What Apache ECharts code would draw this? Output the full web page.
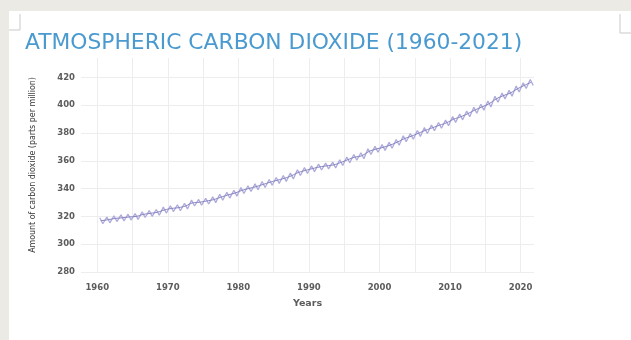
<!DOCTYPE html>
<html lang="en">
<head>
<meta charset="utf-8">
<title>Atmospheric Carbon Dioxide</title>
<script src="https://cdn.jsdelivr.net/npm/echarts@6/dist/echarts.min.js"></script>
</head>
<body style="margin:0; background:#ebeae5; width:631px; height:340px; overflow:hidden; position:relative">
<div id="container" style="position:absolute; left:9px; top:11px; width:622px; height:329px; background:#ffffff"></div>
<script>
// Mauna Loa CO2 (ppm)
var years = [];
for (var y = 1960; y <= 2021; y++) years.push(y);

// yearly seasonal high (around May)
var peakValues = [
  319.0, 319.6, 320.5, 321.1, 321.6, 322.0, 323.4, 324.2, 325.0, 326.7,
  327.7, 328.4, 329.5, 331.8, 332.2, 333.1, 334.1, 335.9, 337.4, 338.8,
  340.7, 342.1, 343.4, 345.1, 346.6, 348.0, 349.4, 351.3, 353.6, 355.1,
  356.4, 357.7, 358.4, 359.1, 360.8, 362.8, 364.6, 365.8, 368.7, 370.4,
  371.7, 373.3, 375.4, 378.0, 379.7, 381.8, 383.9, 385.8, 387.6, 389.4,
  391.9, 393.7, 395.9, 398.6, 400.7, 403.0, 406.5, 408.8, 410.7, 413.8,
  416.2, 418.5
];
// yearly seasonal low (around October)
var lowValues = [
  314.7, 315.4, 316.3, 316.8, 317.4, 317.8, 319.2, 320.0, 320.8, 322.4,
  323.5, 324.1, 325.3, 327.5, 328.0, 328.9, 329.9, 331.6, 333.2, 334.6,
  336.5, 337.9, 339.2, 340.8, 342.4, 343.8, 345.2, 347.0, 349.4, 350.9,
  352.2, 353.4, 354.2, 354.9, 356.6, 358.6, 360.4, 361.5, 364.5, 366.2,
  367.5, 369.1, 371.2, 373.7, 375.5, 377.6, 379.7, 381.6, 383.4, 385.2,
  387.7, 389.5, 391.7, 394.3, 396.5, 398.8, 402.2, 404.6, 406.5, 409.5,
  412.0, 414.3
];
// yearly mean (trend line)
var meanValues = [
  316.9, 317.6, 318.5, 319.0, 319.6, 320.0, 321.4, 322.2, 323.0, 324.6,
  325.7, 326.3, 327.5, 329.7, 330.2, 331.1, 332.1, 333.8, 335.4, 336.8,
  338.7, 340.1, 341.4, 343.0, 344.6, 346.0, 347.4, 349.2, 351.6, 353.1,
  354.4, 355.6, 356.4, 357.1, 358.8, 360.8, 362.6, 363.7, 366.7, 368.4,
  369.7, 371.3, 373.4, 375.9, 377.7, 379.8, 381.9, 383.8, 385.6, 387.4,
  389.9, 391.7, 393.9, 396.5, 398.7, 401.0, 404.4, 406.8, 408.7, 411.7,
  414.2, 416.5
];

var seasonal = [];
var trend = [];
years.forEach(function (yr, i) {
  seasonal.push([yr + 0.37, peakValues[i]]);
  seasonal.push([yr + 0.79, lowValues[i]]);
  trend.push([yr + 0.5, meanValues[i]]);
});

var myChart = echarts.init(document.getElementById('container'));

var labelFont = { fontFamily: 'DejaVu Sans', fontSize: 8.5, fontWeight: 'bold', color: '#5c5c5c' };

var option = {
  animation: false,
  title: {
    text: 'ATMOSPHERIC CARBON DIOXIDE (1960-2021)',
    left: 16,
    top: 21,
    padding: 0,
    textStyle: { fontFamily: 'DejaVu Sans', fontSize: 21.8, fontWeight: 'normal', color: '#4a9ad0' }
  },
  grid: { left: 72, right: 97, top: 47, bottom: 68 },
  xAxis: {
    type: 'value',
    min: 1957.7,
    max: 2021.9,
    splitNumber: 13,
    name: 'Years',
    nameLocation: 'middle',
    nameGap: 27,
    nameTextStyle: { fontFamily: 'DejaVu Sans', fontSize: 9.5, fontWeight: 'bold', color: '#5c5c5c' },
    axisLine: { show: false },
    axisTick: { show: false },
    axisLabel: Object.assign({
      margin: 11,
      formatter: function (v) { return v % 10 === 0 ? String(v) : ''; }
    }, labelFont),
    splitLine: { show: true, showMinLine: false, showMaxLine: false, lineStyle: { color: '#ededed', width: 1 } }
  },
  yAxis: {
    type: 'value',
    min: 280,
    max: 434,
    interval: 20,
    name: 'Amount of carbon dioxide (parts per million)',
    nameLocation: 'middle',
    nameGap: 44,
    nameTextStyle: { fontFamily: 'DejaVu Sans Condensed', fontSize: 8.8, color: '#333333' },
    axisLine: { show: false },
    axisTick: { show: false },
    axisLabel: Object.assign({
      margin: 6,
      formatter: function (v) { return v % 20 === 0 ? String(v) : ''; }
    }, labelFont),
    splitLine: { show: true, showMaxLine: false, lineStyle: { color: '#ededed', width: 1 } }
  },
  series: [
    {
      name: 'Monthly',
      type: 'line',
      data: seasonal,
      showSymbol: false,
      lineStyle: { color: '#aeabdb', width: 1.3 }
    },
    {
      name: 'Trend',
      type: 'line',
      data: trend,
      showSymbol: false,
      smooth: true,
      lineStyle: { color: '#8582c0', width: 1 }
    }
  ],
  graphic: [
    { type: 'polyline', shape: { points: [[11, 3], [11, 19], [0, 19]] }, style: { stroke: '#c9c9c9', lineWidth: 1, fill: null } },
    { type: 'polyline', shape: { points: [[611, 3], [611, 22], [622, 22]] }, style: { stroke: '#c9c9c9', lineWidth: 1, fill: null } }
  ]
};

myChart.setOption(option);
window.addEventListener('resize', myChart.resize);
</script>
</body>
</html>
